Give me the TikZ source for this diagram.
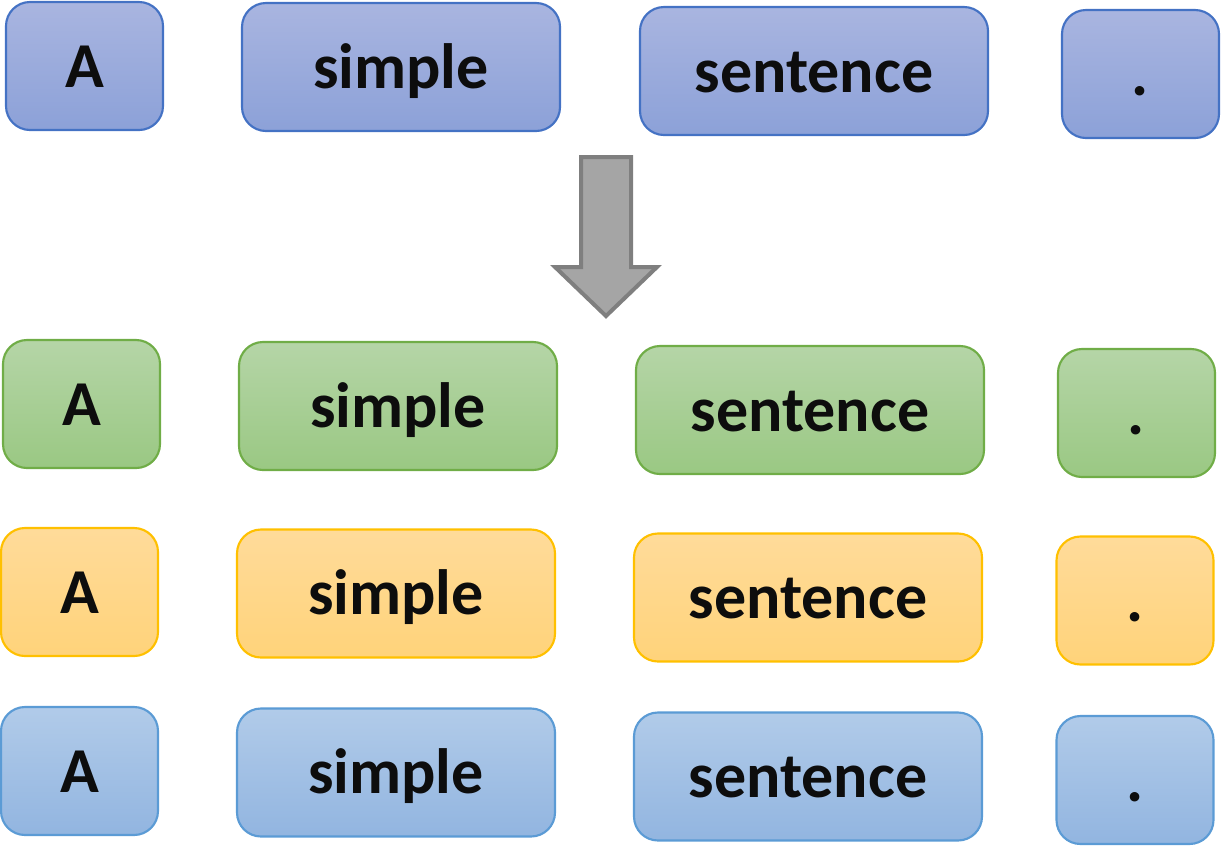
\documentclass[tikz,border=0pt]{standalone}
\usepackage{fontspec}
\setmainfont{Carlito}
\begin{document}
\begin{tikzpicture}[x=0.75pt,y=-0.75pt,
  tok/.style={rounded corners=18pt, line width=1.6pt, inner sep=0pt,
    minimum height=96pt, font=\fontsize{48}{52}\selectfont\bfseries,
    text height=31.5pt, text depth=0pt, text=black!95},
  narrow/.style={tok, minimum width=117.75pt},
  wide/.style={tok, minimum width=238.5pt},
  wider/.style={tok, minimum width=261pt},
  rowa/.style={draw={rgb,255:red,68;green,114;blue,196}, top color={rgb,255:red,169;green,181;blue,224}, bottom color={rgb,255:red,140;green,161;blue,216}},
  rowb/.style={draw={rgb,255:red,112;green,173;blue,71}, top color={rgb,255:red,181;green,213;blue,167}, bottom color={rgb,255:red,154;green,200;blue,131}},
  rowc/.style={draw={rgb,255:red,255;green,192;blue,0}, top color={rgb,255:red,255;green,219;blue,154}, bottom color={rgb,255:red,255;green,211;blue,122}},
  rowd/.style={draw={rgb,255:red,91;green,155;blue,213}, top color={rgb,255:red,177;green,203;blue,233}, bottom color={rgb,255:red,146;green,181;blue,224}},
  bigarrow/.style={draw={rgb,255:red,127;green,127;blue,127}, fill={rgb,255:red,165;green,165;blue,165}, line width=3pt, line join=miter}
]
\useasboundingbox (0,0) rectangle (1221,858);

% row 1
\node[narrow,rowa] (a1) at (84.5,66) {A};
\node[wide,rowa]   (s1) at (401,67) {simple};
\node[wider,rowa]  (t1) at (814,71) {sentence};
\node[narrow,rowa] (d1) at (1140.5,74) {.};

% arrow
\draw[bigarrow] (581,157) -- (631,157) -- (631,267) -- (657,267) -- (606,316) -- (555,267) -- (581,267) -- cycle;

% row 2
\node[narrow,rowb] (a2) at (81.5,404) {A};
\node[wide,rowb]   (s2) at (398,406) {simple};
\node[wider,rowb]  (t2) at (810,410) {sentence};
\node[narrow,rowb] (d2) at (1136.5,413) {.};

% row 3
\node[narrow,rowc] (a3) at (79.5,592) {A};
\node[wide,rowc]   (s3) at (396,593.5) {simple};
\node[wider,rowc]  (t3) at (808,597.5) {sentence};
\node[narrow,rowc] (d3) at (1135,600.5) {.};

% row 4
\node[narrow,rowd] (a4) at (79.5,771) {A};
\node[wide,rowd]   (s4) at (396,772.5) {simple};
\node[wider,rowd]  (t4) at (808,776.5) {sentence};
\node[narrow,rowd] (d4) at (1135,780) {.};
\end{tikzpicture}
\end{document}
